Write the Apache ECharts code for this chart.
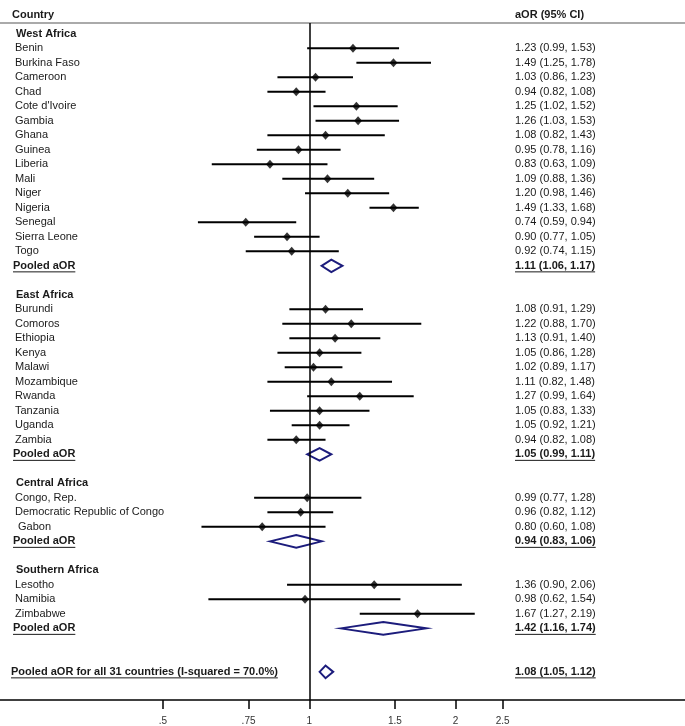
<!DOCTYPE html>
<html><head><meta charset="utf-8">
<script src="https://cdn.jsdelivr.net/npm/echarts@6/dist/echarts.min.js"></script>
<style>html,body{margin:0;padding:0;background:#fff}#c{width:685px;height:726px}</style>
</head><body><div id="c"></div>
<script>
// ---- data ----
const regionNames = ['West Africa', 'East Africa', 'Central Africa', 'Southern Africa'];
const countryNames = [
  'Benin', 'Burkina Faso', 'Cameroon', 'Chad', "Cote d'Ivoire", 'Gambia', 'Ghana', 'Guinea',
  'Liberia', 'Mali', 'Niger', 'Nigeria', 'Senegal', 'Sierra Leone', 'Togo',
  'Burundi', 'Comoros', 'Ethiopia', 'Kenya', 'Malawi', 'Mozambique', 'Rwanda', 'Tanzania', 'Uganda', 'Zambia',
  'Congo, Rep.', 'Democratic Republic of Congo', ' Gabon',
  'Lesotho', 'Namibia', 'Zimbabwe'
];
const countryRegion = [
  0,0,0,0,0,0,0,0,0,0,0,0,0,0,0,
  1,1,1,1,1,1,1,1,1,1,
  2,2,2,
  3,3,3
];
const countryAOR = [
  1.23, 1.49, 1.03, 0.94, 1.25, 1.26, 1.08, 0.95, 0.83, 1.09, 1.20, 1.49, 0.74, 0.90, 0.92,
  1.08, 1.22, 1.13, 1.05, 1.02, 1.11, 1.27, 1.05, 1.05, 0.94,
  0.99, 0.96, 0.80,
  1.36, 0.98, 1.67
];
const countryLower = [
  0.99, 1.25, 0.86, 0.82, 1.02, 1.03, 0.82, 0.78, 0.63, 0.88, 0.98, 1.33, 0.59, 0.77, 0.74,
  0.91, 0.88, 0.91, 0.86, 0.89, 0.82, 0.99, 0.83, 0.92, 0.82,
  0.77, 0.82, 0.60,
  0.90, 0.62, 1.27
];
const countryUpper = [
  1.53, 1.78, 1.23, 1.08, 1.52, 1.53, 1.43, 1.16, 1.09, 1.36, 1.46, 1.68, 0.94, 1.05, 1.15,
  1.29, 1.70, 1.40, 1.28, 1.17, 1.48, 1.64, 1.33, 1.21, 1.08,
  1.28, 1.12, 1.08,
  2.06, 1.54, 2.19
];
const pooledAOR = [1.11, 1.05, 0.94, 1.42];
const pooledLower = [1.06, 0.99, 0.83, 1.16];
const pooledUpper = [1.17, 1.11, 1.06, 1.74];
const overallLabel = 'Pooled aOR for all 31 countries (I-squared = 70.0%)';
const overallAOR = 1.08, overallLower = 1.05, overallUpper = 1.12;
const tickValues = [0.5, 0.75, 1, 1.5, 2, 2.5];
const tickLabels = ['.5', '.75', '1', '1.5', '2', '2.5'];
const xMin = 0.231, xMax = 5.93;

// ---- layout helpers ----
const FONT = '"Liberation Sans", Arial, Helvetica, sans-serif';
const TXT = '#1a1a1a';
const NAVY = '#1c1c7c';
const fmt = (a, l, u) => a.toFixed(2) + ' (' + l.toFixed(2) + ', ' + u.toFixed(2) + ')';
const mctx = document.createElement('canvas').getContext('2d');
function textW(t, font) { mctx.font = font; return mctx.measureText(t).width; }

// build rows
const rows = [];
let idx = 0;
regionNames.forEach((rn, r) => {
  rows.push({ kind: 'header', label: rn, idx: idx++ });
  countryNames.forEach((cn, i) => {
    if (countryRegion[i] === r) {
      rows.push({ kind: 'country', label: cn, est: countryAOR[i], lo: countryLower[i], hi: countryUpper[i], idx: idx++ });
    }
  });
  rows.push({ kind: 'pooled', label: 'Pooled aOR', est: pooledAOR[r], lo: pooledLower[r], hi: pooledUpper[r], idx: idx++ });
  idx++; // blank row
});
idx++;
rows.push({ kind: 'overall', label: overallLabel, est: overallAOR, lo: overallLower, hi: overallUpper, idx: idx++ });

const L = Math.log;
const countryRows = rows.filter(r => r.kind === 'country');
const pooledRows = rows.filter(r => r.kind === 'pooled' || r.kind === 'overall');

const chart = echarts.init(document.getElementById('c'), null, { renderer: 'canvas' });
chart.setOption({
  animation: false,
  backgroundColor: '#fff',
  grid: { left: 0, right: 0, top: 23, bottom: 26, containLabel: false, outerBoundsMode: 'none' },
  xAxis: [{
    type: 'value', min: L(xMin), max: L(xMax), position: 'bottom',
    axisLine: { show: true, onZero: false, lineStyle: { color: '#000', width: 1.5 } },
    axisTick: { show: true, customValues: tickValues.map(L), length: 9, lineStyle: { color: '#000', width: 1.5 } },
    axisLabel: {
      show: true, customValues: tickValues.map(L), margin: 16,
      fontFamily: FONT, fontSize: 10, color: '#333',
      formatter: v => {
        let best = 0;
        tickValues.forEach((t, i) => { if (Math.abs(L(t) - v) < Math.abs(L(tickValues[best]) - v)) best = i; });
        return tickLabels[best];
      }
    },
    splitLine: { show: false }
  }, {
    type: 'value', position: 'top', min: L(xMin), max: L(xMax),
    axisLine: { show: true, onZero: false, lineStyle: { color: '#aaaaaa', width: 2 } },
    axisTick: { show: false }, axisLabel: { show: false }, splitLine: { show: false }
  }],
  yAxis: { type: 'value', inverse: true, min: -0.75, max: 45.94, show: false },
  graphic: [
    { type: 'text', left: 12, top: 9, style: { text: 'Country', font: 'bold 11px ' + FONT, fill: TXT } },
    { type: 'text', left: 515, top: 9, style: { text: 'aOR (95% CI)', font: 'bold 11px ' + FONT, fill: TXT } }
  ],
  series: [
    {
      type: 'custom', name: 'ci', silent: true,
      data: countryRows.map(r => [L(r.lo), L(r.hi), r.idx]),
      encode: { x: [0, 1], y: 2 },
      renderItem: (params, api) => {
        const a = api.coord([api.value(0), api.value(2)]);
        const b = api.coord([api.value(1), api.value(2)]);
        return { type: 'line', shape: { x1: a[0], y1: a[1], x2: b[0], y2: b[1] }, style: { stroke: '#000', lineWidth: 2 } };
      },
      markLine: {
        silent: true, symbol: 'none', label: { show: false },
        lineStyle: { color: '#000', width: 1.5, type: 'solid' },
        data: [{ xAxis: L(1) }]
      }
    },
    {
      type: 'scatter', name: 'est', silent: true,
      symbol: 'diamond', symbolSize: [8, 9],
      itemStyle: { color: '#000' },
      data: countryRows.map(r => [L(r.est), r.idx]),
      z: 3
    },
    {
      type: 'custom', name: 'pooled', silent: true,
      data: pooledRows.map(r => [L(r.lo), L(r.est), L(r.hi), r.idx]),
      encode: { x: [0, 1, 2], y: 3 },
      renderItem: (params, api) => {
        const y = api.value(3);
        const pl = api.coord([api.value(0), y]);
        const pe = api.coord([api.value(1), y]);
        const ph = api.coord([api.value(2), y]);
        const h = 6.3;
        return {
          type: 'polygon',
          shape: { points: [[pl[0], pl[1]], [pe[0], pe[1] - h], [ph[0], ph[1]], [pe[0], pe[1] + h]] },
          style: { stroke: NAVY, fill: 'none', lineWidth: 2 }
        };
      },
      z: 4
    },
    {
      type: 'custom', name: 'text', silent: true, clip: false,
      data: rows.map(r => [0, r.idx]),
      encode: { x: 0, y: 1 },
      renderItem: (params, api) => {
        const r = rows[params.dataIndex];
        const y = api.coord([0, api.value(1)])[1];
        const children = [];
        let lx = 15, font = '11px ' + FONT, underline = false;
        if (r.kind === 'header') { lx = 16; font = 'bold 11px ' + FONT; }
        if (r.kind === 'pooled') { lx = 13; font = 'bold 11px ' + FONT; underline = true; }
        if (r.kind === 'overall') { lx = 11; font = 'bold 11px ' + FONT; underline = true; }
        children.push({ type: 'text', style: { x: lx, y: y, text: r.label, font: font, fill: TXT, align: 'left', verticalAlign: 'middle' } });
        if (underline) {
          const w = textW(r.label, font);
          children.push({ type: 'line', shape: { x1: lx, y1: y + 6, x2: lx + w, y2: y + 6 }, style: { stroke: TXT, lineWidth: 1 } });
        }
        if (r.kind !== 'header') {
          const vt = fmt(r.est, r.lo, r.hi);
          children.push({ type: 'text', style: { x: 515, y: y, text: vt, font: font, fill: TXT, align: 'left', verticalAlign: 'middle' } });
          if (underline) {
            const w2 = textW(vt, font);
            children.push({ type: 'line', shape: { x1: 515, y1: y + 6, x2: 515 + w2, y2: y + 6 }, style: { stroke: TXT, lineWidth: 1 } });
          }
        }
        return { type: 'group', children: children };
      },
      z: 5
    }
  ]
});
</script></body></html>
